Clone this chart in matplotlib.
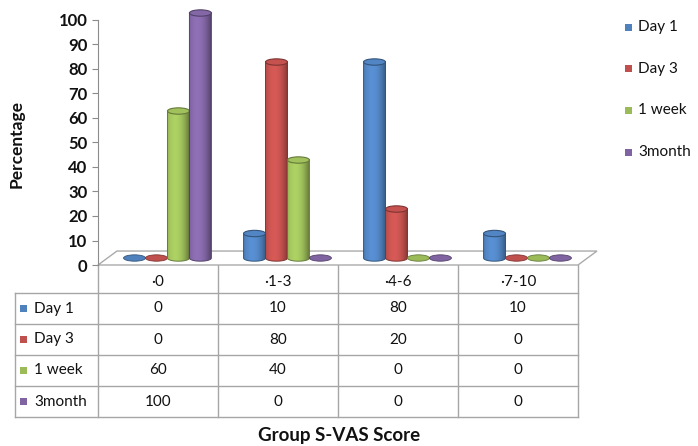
import numpy as np
import matplotlib
matplotlib.use("Agg")
import matplotlib.pyplot as plt
from matplotlib.patches import Ellipse, Polygon, Rectangle

plt.rcParams['font.family'] = ['Lato', 'DejaVu Sans']

categories = ['·0', '·1-3', '·4-6', '·7-10']
series = ['Day 1', 'Day 3', '1 week', '3month']
day1 = [0, 10, 80, 10]
day3 = [0, 80, 20, 0]
week1 = [60, 40, 0, 0]
month3 = [100, 0, 0, 0]
values = [day1, day3, week1, month3]
colors = ['#4F81BD', '#C0504D', '#9BBB59', '#8064A2']

W, H = 698, 446
fig = plt.figure(figsize=(W / 100, H / 100), dpi=100)

# plot area: 4 category slots, 0-100 percent (a little headroom for the cylinder tops)
ymax = 106
px_per_unit = 2.45
ax = fig.add_axes([98 / W, (H - 265) / H, 480 / W, ymax * px_per_unit / H])
ax.set_xlim(-0.5, 3.5)
ax.set_ylim(0, ymax)

depth_x, depth_y = 0.158, 5.7      # floor depth in data units
bar_w = 0.183                      # cylinder diameter (category units)
ell_h = 1.3                        # half-height of cylinder ellipses

floor = Polygon([(-0.5, 0), (3.5, 0), (3.5 + depth_x, depth_y), (-0.5 + depth_x, depth_y)],
                closed=True, facecolor='white', edgecolor='#ababab', lw=1.0,
                clip_on=False, zorder=1)
ax.add_patch(floor)


def shade(color, n=64):
    base = np.array(matplotlib.colors.to_rgb(color))
    t = np.linspace(-1, 1, n)
    f = 0.68 + 0.44 * (1 - ((t + 0.25) / 1.25) ** 2)
    rgb = np.clip(base[None, :] * f[:, None], 0, 1)
    return rgb[None, :, :]


def cylinder(xc, v, color, z):
    r = bar_w / 2
    y0 = depth_y / 2
    dark = tuple(np.array(matplotlib.colors.to_rgb(color)) * 0.65)
    if v <= 0:
        ax.add_patch(Ellipse((xc, y0), 2 * r, 2 * ell_h, facecolor=color,
                             edgecolor=dark, lw=0.6, zorder=z))
        return
    y1 = y0 + v
    t = np.linspace(np.pi, 2 * np.pi, 40)
    pts = [(xc - r, y1)] + list(zip(xc + r * np.cos(t), y0 + ell_h * np.sin(t))) + [(xc + r, y1)]
    body = Polygon(pts, closed=True, facecolor='none', edgecolor=dark, lw=0.7, zorder=z + 0.1)
    ax.add_patch(body)
    im = ax.imshow(shade(color), extent=[xc - r, xc + r, y0 - ell_h, y1],
                   aspect='auto', interpolation='bilinear', zorder=z)
    im.set_clip_path(body)
    top = tuple(np.clip(np.array(matplotlib.colors.to_rgb(color)) * 1.03, 0, 1))
    ax.add_patch(Ellipse((xc, y1), 2 * r, 2 * ell_h, facecolor=top,
                         edgecolor=dark, lw=0.8, zorder=z + 0.2))


for ci in range(len(categories)):
    for si, vals in enumerate(values):
        xc = ci + depth_x / 2 + (si - 1.5) * bar_w
        cylinder(xc, vals[ci], colors[si], 2 + si)

ax.set_xlim(-0.5, 3.5)
ax.set_ylim(0, ymax)
for s in ['top', 'right', 'bottom']:
    ax.spines[s].set_visible(False)
ax.spines['left'].set_color('#8c8c8c')
ax.spines['left'].set_bounds(0, 100)
ax.set_xticks([])
ax.set_yticks(range(0, 101, 10))
ax.tick_params(axis='y', length=4.5, color='#8c8c8c', labelsize=12, labelcolor='#111111', pad=3)
for lab in ax.get_yticklabels():
    lab.set_fontweight('bold')
ax.patch.set_alpha(0)

# overlay in pixel units for table, legend and titles
ov = fig.add_axes([0, 0, 1, 1], zorder=-1)
ov.set_xlim(0, W)
ov.set_ylim(H, 0)
ov.axis('off')

grid = '#a6a6a6'
col_x = [98 + 120 * i for i in range(len(categories) + 1)]
row_y = [265, 293, 324, 355, 386, 417]
left = 15

for y in row_y[1:]:
    ov.plot([left, col_x[-1]], [y, y], color=grid, lw=1.0)
ov.plot([left, left], [row_y[1], row_y[-1]], color=grid, lw=1.0)
for x in col_x:
    ov.plot([x, x], [row_y[0], row_y[-1]], color=grid, lw=1.0)

txt = '#111111'
for ci, cat in enumerate(categories):
    cx = (col_x[ci] + col_x[ci + 1]) / 2
    ov.text(cx, (row_y[0] + row_y[1]) / 2 + 3, cat, ha='center', va='center', fontsize=11, color=txt)
    for si, vals in enumerate(values):
        cy = (row_y[si + 1] + row_y[si + 2]) / 2
        ov.text(cx, cy, str(vals[ci]), ha='center', va='center', fontsize=11, color=txt)

for si, name in enumerate(series):
    cy = (row_y[si + 1] + row_y[si + 2]) / 2
    ov.add_patch(Rectangle((20, cy - 3.5), 7, 7, facecolor=colors[si], edgecolor='none'))
    ov.text(34, cy, name, ha='left', va='center', fontsize=11, color=txt)

# legend on the right
for si, name in enumerate(series):
    cy = 27 + 41.7 * si
    ov.add_patch(Rectangle((625, cy - 3.5), 7, 7, facecolor=colors[si], edgecolor='none'))
    ov.text(638, cy, name, ha='left', va='center', fontsize=11, color=txt)

ov.text(17, 144, 'Percentage', rotation=90, ha='center', va='center',
        fontsize=12.5, fontweight='bold', color=txt)
ov.text(339, 436, 'Group S-VAS Score', ha='center', va='center',
        fontsize=13.5, fontweight='bold', color=txt)

fig.savefig('out.png', dpi=100)
